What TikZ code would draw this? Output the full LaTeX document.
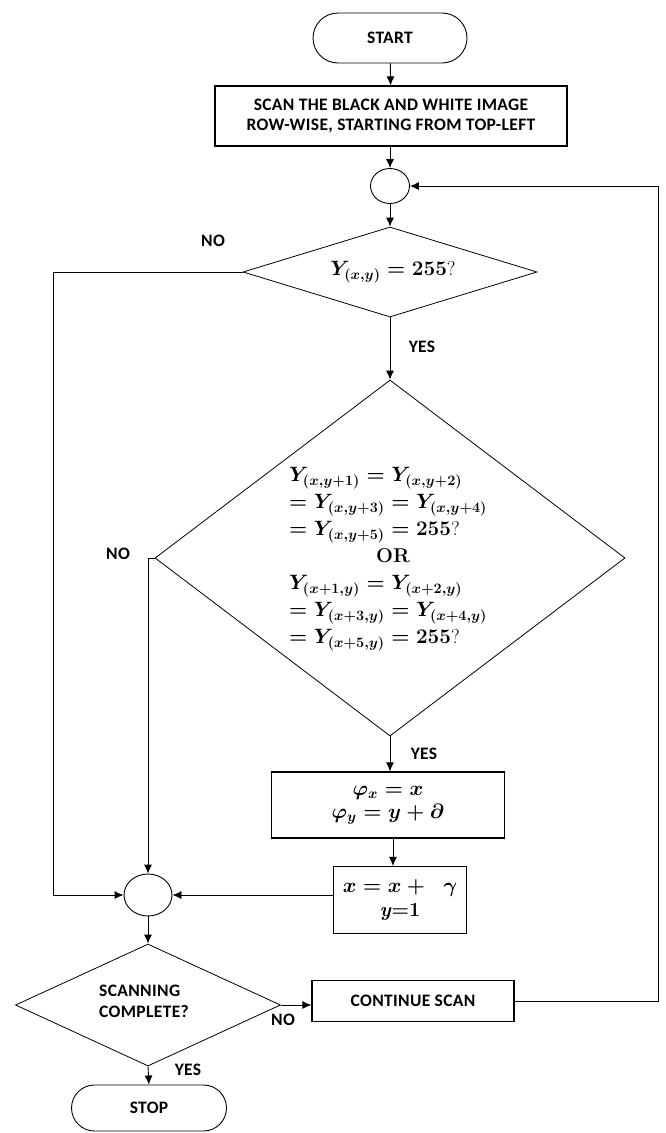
\documentclass[tikz,border=0pt]{standalone}
\usepackage{amsmath}
\usepackage{fontspec}
\newfontfamily\labfont{Carlito}[LetterSpace=2]
\usetikzlibrary{shapes.geometric,shapes.misc,arrows.meta}
\tikzset{
  lab/.style={font=\labfont\bfseries\fontsize{17.5}{21}\selectfont, inner sep=0pt},
  conn/.style={draw, line width=0.9pt, -{Latex[length=9pt,width=8pt]}},
  box/.style={draw, line width=1.1pt, rectangle, inner sep=0pt, align=center},
  term/.style={draw, line width=0.9pt, rounded rectangle, inner sep=0pt, font=\labfont\bfseries\fontsize{17.5}{21}\selectfont},
  dia/.style={draw, line width=0.8pt, diamond, inner sep=0pt},
  junc/.style={draw, line width=0.9pt, ellipse, inner sep=0pt},
}
\begin{document}
\begin{tikzpicture}[x=1pt,y=-1pt]
\useasboundingbox (0,0) rectangle (666,1133);
% nodes
\node[term, minimum width=154pt, minimum height=50pt] (start) at (390,38) {START};
\node[box, minimum width=352pt, minimum height=60pt, font=\labfont\bfseries\fontsize{17.5}{20.5}\selectfont] (scan) at (391,116) {SCAN THE BLACK AND WHITE IMAGE\\ROW-WISE, STARTING FROM TOP-LEFT};
\node[junc, minimum width=39pt, minimum height=35pt] (j1) at (390,186) {};
\node[dia, minimum width=294pt, minimum height=90pt] (d1) at (390,272) {};
\node[inner sep=0pt, font=\fontsize{20}{22}\selectfont\boldmath] (d1t) at (393,272) {$Y_{(x,y)} = 255$?};
\node[dia, minimum width=470pt, minimum height=356pt] (d2) at (390,558) {};
\node[inner sep=0pt, align=center, font=\fontsize{20}{27}\selectfont\boldmath] (d2t) at (393,559) {%
\makebox[208pt][l]{$Y_{(x,y+1)} = Y_{(x,y+2)}$}\\
\makebox[208pt][l]{$= Y_{(x,y+3)} = Y_{(x,y+4)}$}\\
\makebox[208pt][l]{$= Y_{(x,y+5)} = 255$?}\\
\makebox[208pt][c]{\textbf{OR}}\\
\makebox[208pt][l]{$Y_{(x+1,y)} = Y_{(x+2,y)}$}\\
\makebox[208pt][l]{$= Y_{(x+3,y)} = Y_{(x+4,y)}$}\\
\makebox[208pt][l]{$= Y_{(x+5,y)} = 255$?}};
\node[box, minimum width=233pt, minimum height=66pt, font=\fontsize{20}{23}\selectfont\boldmath] (phi) at (388,805) {$\varphi_x = x$\\$\varphi_y = y + \partial$};
\node[box, minimum width=133pt, minimum height=67pt, font=\fontsize{20}{24}\selectfont\boldmath] (upd) at (400,900) {$x = x + \;\;\gamma$\\\textbf{\textit{y}=1}};
\node[junc, minimum width=48pt, minimum height=42pt] (j2) at (148,895) {};
\node[dia, minimum width=265pt, minimum height=122pt] (d3) at (148,1005) {};
\node[lab, align=left] (d3t) at (144,1001) {SCANNING\\COMPLETE?};
\node[box, minimum width=202pt, minimum height=41pt, font=\labfont\bfseries\fontsize{17.5}{21}\selectfont] (cont) at (413,1001) {CONTINUE SCAN};
\node[term, minimum width=155pt, minimum height=46pt] (stop) at (149,1108) {STOP};
% labels
\node[lab] (no1) at (213,241) {NO};
\node[lab] (yes1) at (422,347) {YES};
\node[lab] (no2) at (118,554) {NO};
\node[lab] (yes2) at (424,754) {YES};
\node[lab] (no3) at (283,1020) {NO};
\node[lab] (yes3) at (188,1070) {YES};
% helper coordinates
\coordinate (rx) at (658,0);
\coordinate (lx) at (53,0);
% connectors
\draw[conn] (start) -- (scan);
\draw[conn] (scan.south -| j1) -- (j1.north);
\draw[conn] (j1) -- (d1);
\draw[conn] (cont.east) -- (cont.east -| rx) -- (j1.east -| rx) -- (j1.east);
\draw[conn] (d1.west) -- (d1.west -| lx) -- (j2.west -| lx) -- (j2.west);
\draw[conn] (d1.south) -- (d2.north);
\draw[conn] (d2.west) -| (j2.north);
\draw[conn] (d2.south) -- (d2.south |- phi.north);
\draw[conn] ([xshift=5pt]phi.south) -- ([xshift=5pt]phi.south |- upd.north);
\draw[conn] (upd.west |- j2.east) -- (j2.east);
\draw[conn] (j2.south) -- (d3.north);
\draw[conn] (d3.east) -- (d3.east -| cont.west);
\draw[conn] (d3.south) -- (stop.north);
\end{tikzpicture}
\end{document}
